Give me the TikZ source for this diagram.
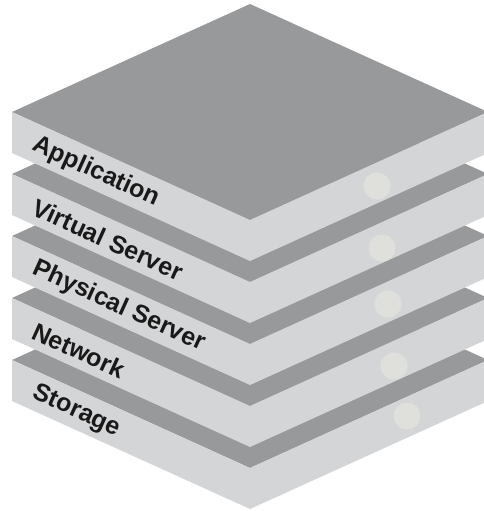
\documentclass[tikz,border=0pt]{standalone}
\usepackage{fontspec}
\setmainfont{Liberation Sans}
\definecolor{slabtop}{HTML}{98999B}
\definecolor{slabside}{HTML}{D4D5D7}
\definecolor{slabled}{HTML}{DFE0DC}
\begin{document}
\begin{tikzpicture}
		[x=1pt,y=-1pt,
		topface/.style={fill=slabtop},
		sideface/.style={fill=slabside},
		led/.style={fill=slabled},
		layername/.style={anchor=west,inner sep=0pt,rotate=-24.4,
			text=black!90,font=\fontsize{25}{28}\selectfont\bfseries}
		]
		\useasboundingbox (0,0) rectangle (483,511);
		% slabs from the bottom up
		\foreach \k/\cx/\cy/\txt in {4/407/416/Storage,3/394/366/Network,
			2/388/304/Physical Server,1/382/248/Virtual Server,0/377/186/Application}
		{
			\pgfmathsetmacro{\dy}{62*\k}
			\fill[topface] (250,4+\dy) -- (488,112+\dy) -- (250,220+\dy) -- (12,112+\dy) -- cycle;
			\fill[sideface] (12,112+\dy) -- (250,220+\dy) -- (250,261+\dy) -- (12,153+\dy) -- cycle;
			\fill[sideface] (250,220+\dy) -- (488,112+\dy) -- (488,153+\dy) -- (250,261+\dy) -- cycle;
			\fill[led] (\cx,\cy) circle (13.5);
			\node[layername] (layer\k) at (34,144+\dy) {\txt};
		}
	\end{tikzpicture}
\end{document}
